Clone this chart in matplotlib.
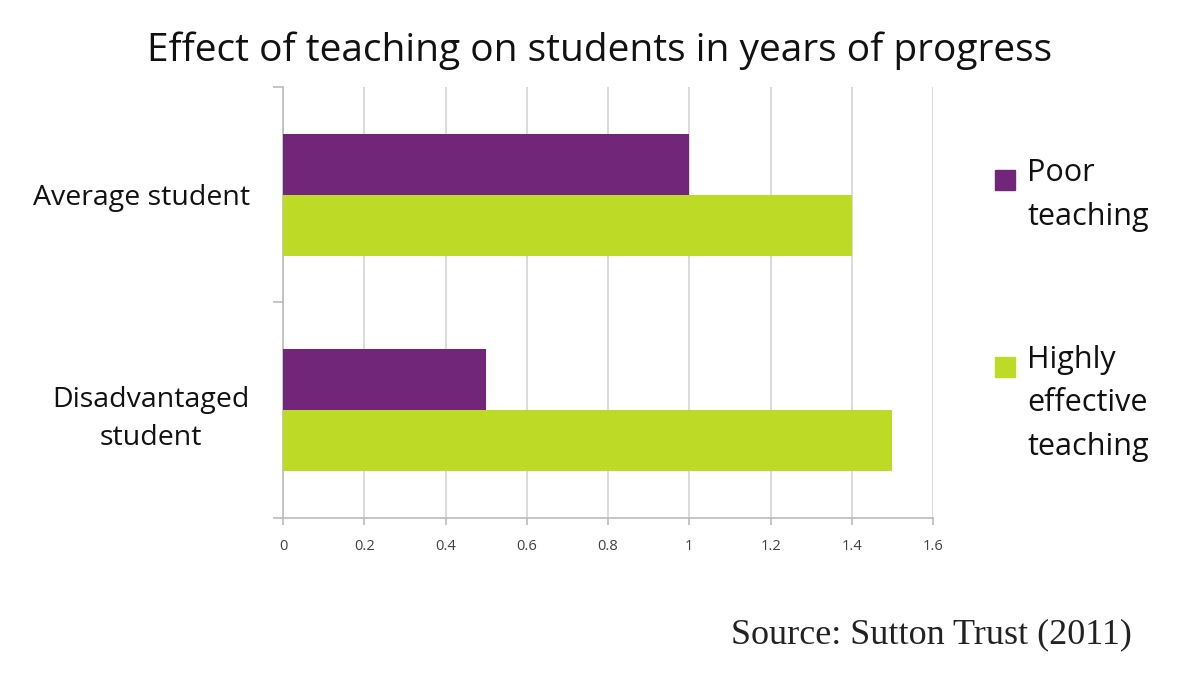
import matplotlib
matplotlib.use("Agg")
import matplotlib.pyplot as plt
from matplotlib.patches import Rectangle

categories = ["Average student", "Disadvantaged\nstudent"]
series_names = ["Poor\nteaching", "Highly\neffective\nteaching"]
poor = [1.0, 0.5]
highly_effective = [1.4, 1.5]
x_ticks = [0, 0.2, 0.4, 0.6, 0.8, 1.0, 1.2, 1.4, 1.6]
x_tick_labels = ["0", "0.2", "0.4", "0.6", "0.8", "1", "1.2", "1.4", "1.6"]

PURPLE = "#72267a"
GREEN = "#bddb26"
GRID = "#d4d4d4"
SANS = ["Open Sans", "DejaVu Sans"]

plt.rcParams["font.family"] = SANS

fig = plt.figure(figsize=(12, 6.77), dpi=100)
ax = fig.add_axes([0.236, 0.235, 0.5415, 0.6365])

pos = list(range(len(categories)))
h = 0.284
ax.barh([p - h / 2 for p in pos], poor, height=h, color=PURPLE, zorder=3)
ax.barh([p + h / 2 for p in pos], highly_effective, height=h, color=GREEN, zorder=3)

ax.set_xlim(0, 1.6)
ax.set_ylim(1.5, -0.5)

ax.set_xticks(x_ticks)
ax.set_xticklabels(x_tick_labels, fontsize=10.5, color="#404040")
ax.grid(axis="x", color=GRID, lw=1.2, zorder=0)

# boundary ticks on the y axis, category labels at the centres
ax.set_yticks([-0.5, 0.5, 1.5])
ax.set_yticklabels([])
ax.set_yticks(pos, minor=True)
ax.set_yticklabels(categories, minor=True, fontsize=20.5, color="#111111")
for lbl in ax.get_yticklabels(minor=True):
    lbl.set_multialignment("center")
    lbl.set_linespacing(1.5)
ax.tick_params(axis="y", which="major", length=7, color="#bbbbbb", width=1.2)
ax.tick_params(axis="y", which="minor", length=0, pad=24)
ax.tick_params(axis="x", length=5, color="#bbbbbb", width=1.2, pad=10)

for s in ["top", "right"]:
    ax.spines[s].set_visible(False)
for s in ["left", "bottom"]:
    ax.spines[s].set_color("#bbbbbb")
    ax.spines[s].set_linewidth(1.2)

fig.text(0.5, 0.925, "Effect of teaching on students in years of progress",
         ha="center", va="center", fontsize=28, color="#111111")

# legend drawn by hand so the swatch sits beside the first text line
legend_top = [0.767, 0.491]
for name, col, y in zip(series_names, [PURPLE, GREEN], legend_top):
    fig.patches.append(Rectangle((0.829, y - 0.0475), 0.0167, 0.0295,
                                 transform=fig.transFigure, color=col))
    fig.text(0.856, y, name, ha="left", va="top", fontsize=22,
             color="#111111", linespacing=1.6)

fig.text(0.943, 0.063, "Source: Sutton Trust (2011)", ha="right", va="center",
         fontsize=26, family=["Liberation Serif", "DejaVu Serif"], color="#222222")

fig.savefig("out.png", dpi=100, facecolor="white")
